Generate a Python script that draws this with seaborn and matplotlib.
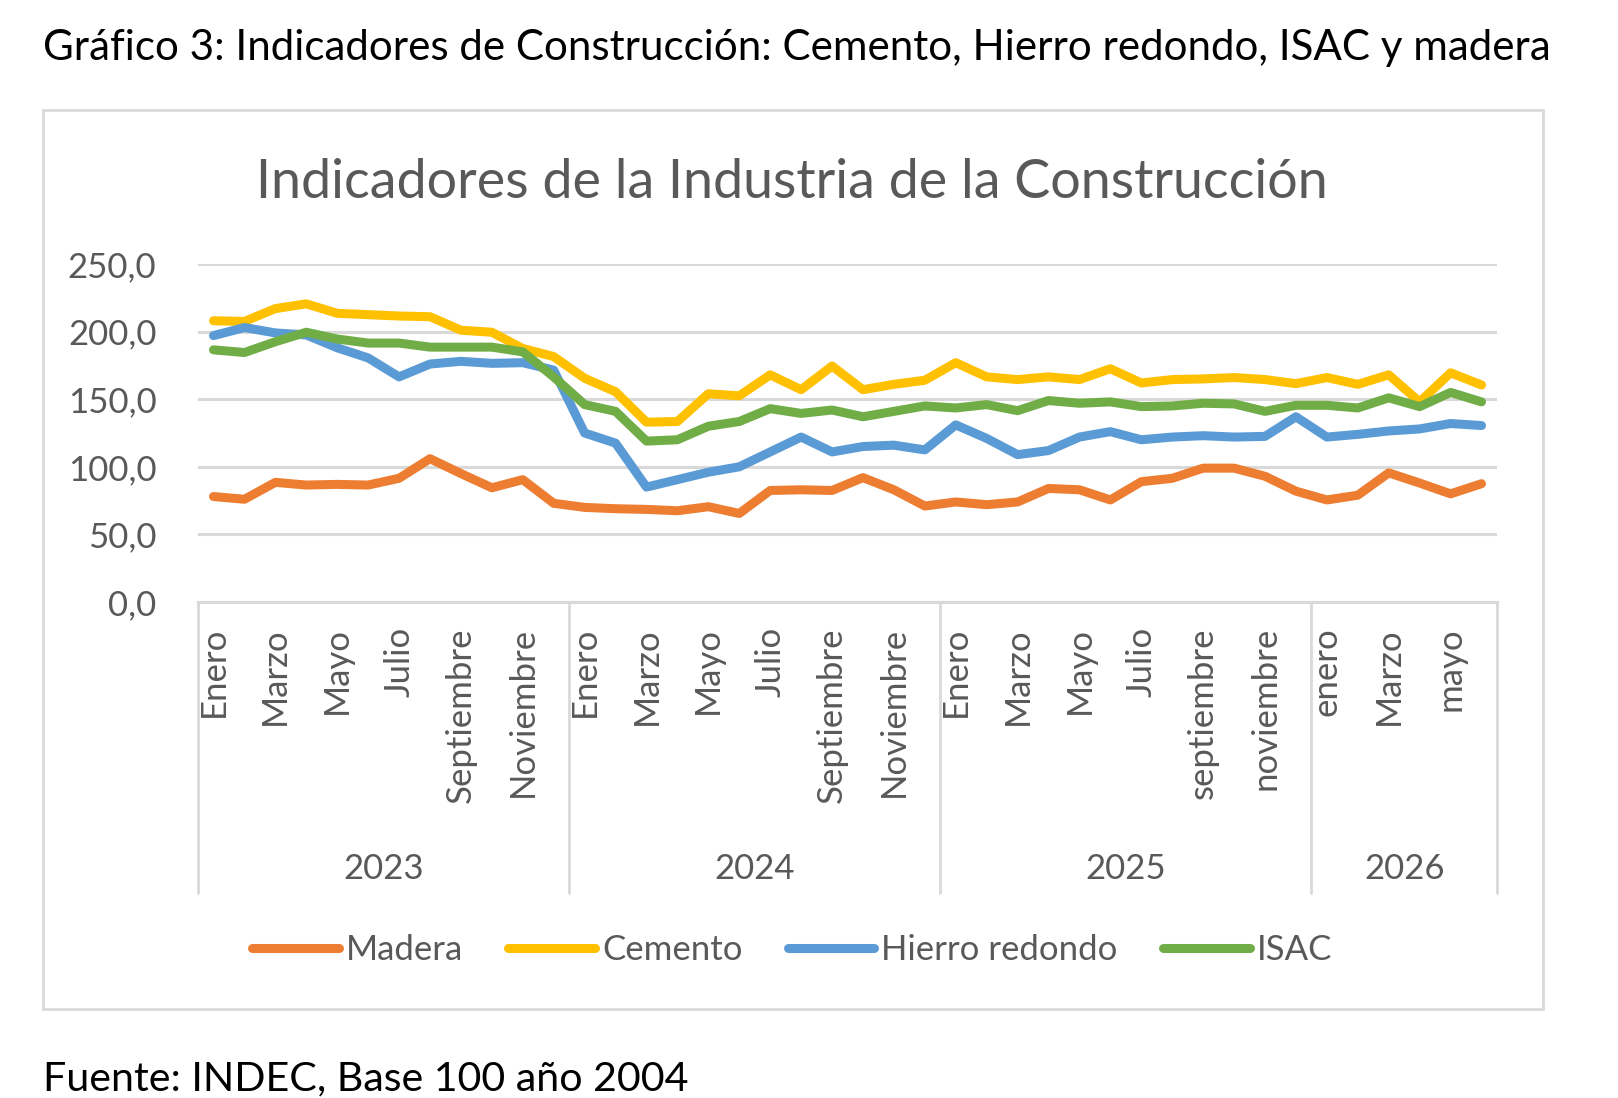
import numpy as np
import pandas as pd
import seaborn as sns
import matplotlib.pyplot as plt
from matplotlib.patches import Rectangle
from matplotlib.ticker import FuncFormatter, FixedLocator

# months per year (2026 only up to June)
years = ["2023", "2024", "2025", "2026"]
meses_2023 = ["Enero", "Febrero", "Marzo", "Abril", "Mayo", "Junio", "Julio",
              "Agosto", "Septiembre", "Octubre", "Noviembre", "Diciembre"]
meses_2024 = meses_2023
meses_2025 = ["Enero", "Febrero", "Marzo", "Abril", "Mayo", "Junio", "Julio",
              "Agosto", "septiembre", "octubre", "noviembre", "diciembre"]
meses_2026 = ["enero", "febrero", "Marzo", "abril", "mayo", "junio"]

madera = [78, 76, 88.5, 86.5, 87, 86.5, 91.5, 106, 95, 84.5, 90.5, 73,
          70, 69, 68.5, 67.5, 70.5, 65.5, 82.5, 83, 82.5, 92, 83, 71,
          74, 72, 74, 84, 83, 75.5, 89, 91.5, 99, 99, 93, 82,
          75.5, 79, 95.5, 88, 80, 87.5]
cemento = [208, 207.5, 217, 220.5, 213.5, 212.5, 211.5, 211, 201, 199.5, 187.5, 181.5,
           165.5, 155.5, 133, 133.5, 154, 152.5, 168, 157, 174.5, 157, 161, 164,
           177, 166.5, 164.5, 166.5, 164.5, 172.5, 162, 164.5, 165, 166, 164.5, 161.5,
           166, 161, 168, 148, 169.5, 160.5]
hierro = [197, 203, 199, 197.5, 188, 180.5, 166.5, 176, 178, 176.5, 177, 171.5,
          125, 117.5, 85, 90.5, 96, 100, 111, 122, 111, 115, 116, 112.5,
          131, 121, 109, 112, 122, 126, 120, 122, 123, 122, 122.5, 137,
          122, 124, 126.5, 128, 132, 130.5]
isac = [186.5, 184.5, 192.5, 199.5, 194.5, 191.5, 191.5, 188.5, 188.5, 188.5, 185, 166.5,
        146, 141, 119, 120, 130, 133.5, 143, 139.5, 142, 137, 141, 145,
        143.5, 146, 141.5, 149, 147, 148, 144.5, 145, 147, 146.5, 141, 145.5,
        145.5, 143.5, 151, 144.5, 155, 148]

series = ["Madera", "Cemento", "Hierro redondo", "ISAC"]
colores = {"Madera": "#ED7D31", "Cemento": "#FFC000",
           "Hierro redondo": "#5B9BD5", "ISAC": "#70AD47"}

meses = meses_2023 + meses_2024 + meses_2025 + meses_2026
n_por_anio = [len(meses_2023), len(meses_2024), len(meses_2025), len(meses_2026)]
idx = np.arange(len(meses))

df = pd.DataFrame({"idx": idx, "Madera": madera, "Cemento": cemento,
                   "Hierro redondo": hierro, "ISAC": isac})
df_long = df.melt(id_vars="idx", var_name="serie", value_name="valor")

sns.set_theme(style="white")
plt.rcParams['font.family'] = ['Lato', 'DejaVu Sans']
gris = "#595959"
linea_gris = "#D9D9D9"

fig = plt.figure(figsize=(16.18, 10.98), dpi=100)
ax = fig.add_axes([0.1224, 0.4517, 0.8028, 0.3079])

sns.lineplot(data=df_long, x="idx", y="valor", hue="serie", hue_order=series,
             palette=colores, linewidth=6.5, sort=False, legend=False, ax=ax)
for l in ax.get_lines():
    l.set_solid_capstyle("round")
    l.set_solid_joinstyle("round")

ax.set_xlim(-0.5, len(meses) - 0.5)
ax.set_ylim(0, 250)
ax.set_yticks([0, 50, 100, 150, 200, 250])
ax.yaxis.set_major_formatter(FuncFormatter(lambda v, p: f"{v:.1f}".replace(".", ",")))
ax.grid(axis="y", color=linea_gris, linewidth=2.2)
ax.set_axisbelow(True)
for s in ["top", "right", "left"]:
    ax.spines[s].set_visible(False)
ax.spines["bottom"].set_color(linea_gris)
ax.spines["bottom"].set_linewidth(2.2)
ax.set_xlabel("")
ax.set_ylabel("")

# every other month label, like the original
pos = idx[::2]
ax.xaxis.set_major_locator(FixedLocator(pos))
ax.set_xticklabels([meses[i] for i in pos], rotation=90)
ax.tick_params(axis="x", length=0, pad=18, labelsize=25, labelcolor=gris)
ax.tick_params(axis="y", length=0, pad=30, labelsize=25, labelcolor=gris)

# year groups and separators
trans = ax.get_xaxis_transform()
bordes = np.concatenate([[0], np.cumsum(n_por_anio)]) - 0.5
for b in bordes:
    ax.plot([b, b], [0, -0.861], transform=trans, color=linea_gris,
            linewidth=2, clip_on=False)
for k, y in enumerate(years):
    centro = (bordes[k] + bordes[k + 1]) / 2
    ax.text(centro, -0.79, y, transform=trans, ha="center", va="center",
            fontsize=25, color=gris)

# legend
handles = [plt.Line2D([], [], color=colores[s], linewidth=6.5,
                      solid_capstyle="round") for s in series]
fig.legend(handles, series, loc="center", bbox_to_anchor=(0.4895, 0.1348),
           ncol=4, frameon=False, fontsize=25, handlelength=2.5,
           handletextpad=0.2, columnspacing=1.3, labelcolor=gris)

# chart area border
fig.patches.append(Rectangle((0.0266, 0.081), 0.927, 0.8188, transform=fig.transFigure,
                             fill=False, edgecolor=linea_gris, linewidth=2))

fig.text(0.4895, 0.8197, "Indicadores de la Industria de la Construcción",
         ha="center", va="baseline", fontsize=38.8, color=gris)
fig.text(0.0266, 0.945, "Gráfico 3: Indicadores de Construcción: Cemento, Hierro redondo, ISAC y madera",
         ha="left", va="baseline", fontsize=30.3, color="black")
fig.text(0.0266, 0.0073, "Fuente: INDEC, Base 100 año 2004",
         ha="left", va="baseline", fontsize=29.6, color="black")

fig.savefig("out.png", dpi=100)
